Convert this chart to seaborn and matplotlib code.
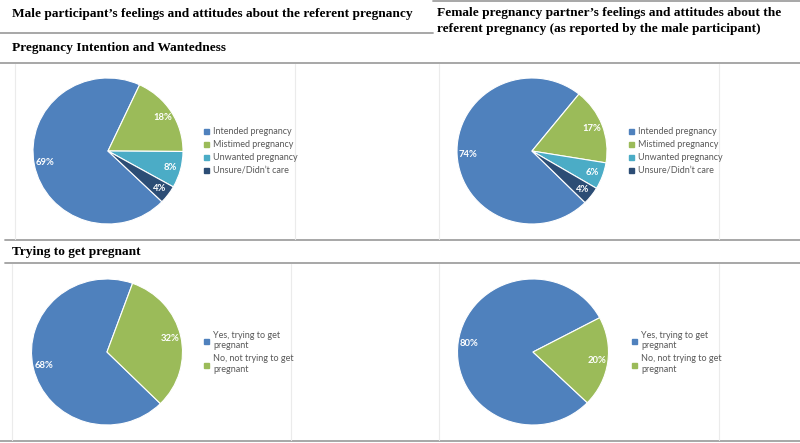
import matplotlib
matplotlib.use("Agg")
import matplotlib.pyplot as plt
from matplotlib.lines import Line2D
import numpy as np
import seaborn as sns

sns.set_theme(style="white")
plt.rcParams['font.family'] = ['Lato', 'DejaVu Sans']

# ---- data ----
header_left = "Male participant\u2019s feelings and attitudes about the referent pregnancy"
header_right = ["Female pregnancy partner\u2019s feelings and attitudes about the",
                "referent pregnancy (as reported by the male participant)"]
section1 = "Pregnancy Intention and Wantedness"
section2 = "Trying to get pregnant"

intention_labels = ["Intended pregnancy", "Mistimed pregnancy", "Unwanted pregnancy", "Unsure/Didn\u2019t care"]
intention_male = [69, 18, 8, 4]
intention_female = [74, 17, 6, 4]

trying_labels = ["Yes, trying to get\npregnant", "No, not trying to get\npregnant"]
trying_male = [68, 32]
trying_female = [80, 20]

palette = sns.color_palette(["#4F81BD", "#9BBB59", "#4BACC6", "#2C4D75"])

W, H = 800, 443
fig = plt.figure(figsize=(W / 100, H / 100), dpi=100)

# overlay axes in pixel coordinates
ov = fig.add_axes([0, 0, 1, 1])
ov.set_xlim(0, W)
ov.set_ylim(H, 0)
ov.axis("off")

line_col = "#a0a0a0"
lw = 1.3
ov.plot([433, W], [0.8, 0.8], color=line_col, lw=lw)
ov.plot([0, 433], [33, 33], color=line_col, lw=lw)
ov.plot([0, W], [63, 63], color=line_col, lw=lw)
ov.plot([5, W], [240, 240], color=line_col, lw=lw)
ov.plot([5, W], [263, 263], color=line_col, lw=lw)
ov.plot([0, W], [441, 441], color=line_col, lw=lw)

box_col = "#ebebeb"
for (x0, x1, y0, y1) in [(15, 295, 64, 239), (439, 719, 64, 239),
                         (12, 291, 264, 440), (439, 719, 264, 440)]:
    ov.plot([x0, x0], [y0, y1], color=box_col, lw=0.8)
    ov.plot([x1, x1], [y0, y1], color=box_col, lw=0.8)

serif = dict(family="Liberation Serif", fontweight="bold", color="black", fontsize=9.6)
ov.text(12, 14, header_left, va="center", ha="left", **serif)
ov.text(437, 12.5, header_right[0], va="center", ha="left", **serif)
ov.text(437, 29, header_right[1], va="center", ha="left", **serif)
ov.text(12, 48, section1, va="center", ha="left", **serif)
ov.text(12, 252, section2, va="center", ha="left", **serif)


def draw_pie(cx, cy, rx, ry, values, startangle):
    ax = fig.add_axes([(cx - rx) / W, 1 - (cy + ry) / H, 2 * rx / W, 2 * ry / H])
    wedges, _ = ax.pie(values, colors=palette[:len(values)], startangle=startangle,
                       counterclock=False, radius=1,
                       wedgeprops=dict(edgecolor="white", linewidth=0.8))
    ax.set_xlim(-1, 1)
    ax.set_ylim(-1, 1)
    ax.set_aspect("auto")
    ax.axis("off")
    for w, v in zip(wedges, values):
        mid = np.deg2rad((w.theta1 + w.theta2) / 2)
        r = 0.86
        ax.text(r * np.cos(mid), r * np.sin(mid), f"{v}%", ha="center", va="center",
                color="white", fontsize=6.8, fontweight="bold")
    return ax


def draw_legend(x, y, labels, n, spacing):
    handles = [Line2D([], [], marker="s", linestyle="none", markersize=3.6,
                      markerfacecolor=palette[i], markeredgecolor=palette[i]) for i in range(n)]
    leg = fig.legend(handles, labels, loc="upper left", bbox_to_anchor=(x / W, 1 - y / H),
                     frameon=False, fontsize=6.5, handlelength=0.6, handletextpad=0.5,
                     labelspacing=spacing, borderpad=0, borderaxespad=0)
    for t in leg.get_texts():
        t.set_color("#595959")
    return leg


draw_pie(108, 151, 75, 73, intention_male, -44)
draw_pie(532, 151, 75, 73, intention_female, -45)
draw_pie(107, 352, 75.5, 73, trying_male, -45)
draw_pie(533, 352, 75.5, 73, trying_female, -44)

draw_legend(203, 127.5, intention_labels, 4, 0.42)
draw_legend(628, 127.5, intention_labels, 4, 0.42)
draw_legend(203, 331, trying_labels, 2, 0.45)
draw_legend(631, 331, trying_labels, 2, 0.45)

fig.savefig("out.png", dpi=100)
